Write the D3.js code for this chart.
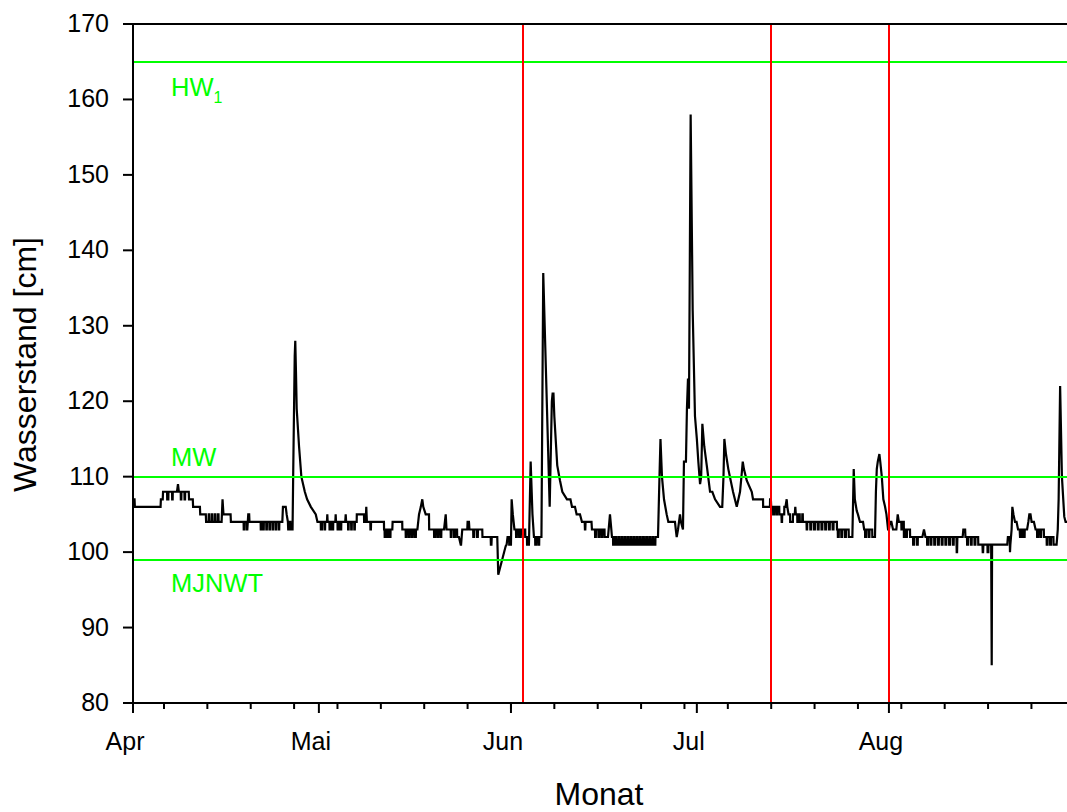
<!DOCTYPE html>
<html>
<head>
<meta charset="utf-8">
<script src="https://cdn.jsdelivr.net/npm/d3@7"></script>
<style>
  body { margin: 0; background: #fff; }
  svg { display: block; }
</style>
</head>
<body>
<div id="chart"></div>
<script>
// Wasserstand, April - August (day of month with fraction, cm)
var year = 2014;

var april = [
  [1.0,107],[1.25,107],[1.3,106],[5.45,106],[5.5,107],[5.8,107],[5.85,108],
  [6.5,108],[6.52,107],[6.7,107],[6.72,108],[7.3,108],[7.32,107],[7.4,107],[7.42,108],
  [8.1,108],[8.26,109],[8.4,108],[8.7,108],[8.72,107],[8.8,107],[8.82,108],[9.3,108],
  [9.32,107],[9.4,107],[9.42,108],[10.0,108],[10.04,107],[10.65,107],[10.7,106],
  [11.8,106],[11.85,105],[12.75,105],[12.8,104],
  [13.2,104],[13.22,105],[13.3,105],[13.32,104],[13.7,104],[13.72,105],[13.8,105],[13.82,104],
  [14.2,104],[14.22,105],[14.3,105],[14.32,104],[14.7,104],[14.72,105],[14.8,105],[14.82,104],
  [15.3,104],[15.45,107],[15.6,105],[16.75,105],[16.8,104],
  [18.85,104],[18.87,103],[18.97,103],[18.99,104],[19.35,104],[19.37,103],[19.45,103],
  [19.6,105],[19.75,105],[19.8,104],[21.6,104],
  [21.62,103],[21.7,103],[21.72,104],[22.0,104],[22.02,103],[22.1,103],[22.12,104],
  [22.5,104],[22.52,103],[22.6,103],[22.62,104],[23.0,104],[23.02,103],[23.1,103],[23.12,104],
  [23.5,104],[23.52,103],[23.6,103],[23.62,104],[24.0,104],[24.02,103],[24.1,103],[24.12,104],
  [24.5,104],[24.52,103],[24.6,103],[24.62,104],[25.1,104],[25.2,106],[25.65,106],[25.8,105],
  [26.0,104],[26.05,103],[26.3,103],[26.32,104],[26.4,104],[26.42,103],[26.75,103],
  [26.85,110],[27.1,126],[27.19,128],[27.3,124],[27.42,119],[27.8,114],[28.17,110],
  [28.73,108],[29.1,107],[29.7,106],[30.5,105],[30.77,104]
];

var may = [
  [1.0,104],[1.3,104],[1.32,103],[1.5,103],[1.52,104],[1.9,104],[1.92,103],[2.0,103],[2.02,104],
  [2.3,104],[2.36,105],[2.42,104],[2.7,104],[2.72,103],[2.9,103],[2.92,104],[3.2,104],[3.22,103],
  [3.3,103],[3.32,104],[3.65,104],[3.71,105],[3.77,104],[4.0,104],[4.02,103],[4.2,103],[4.22,104],
  [4.5,104],[4.52,103],[4.6,103],[4.62,104],[5.25,104],[5.33,105],[5.4,104],[5.7,104],[5.72,103],
  [5.8,103],[5.82,104],[6.2,104],[6.22,103],[6.3,103],[6.32,104],[6.7,104],[6.72,103],[6.8,103],
  [6.82,104],[7.1,104],[7.12,105],[8.28,105],[8.3,104],[8.55,104],[8.65,106],[8.75,104],
  [9.3,104],[9.32,103],[9.4,103],[9.42,104],[11.5,104],[11.52,103],[11.6,103],[11.62,102],
  [11.75,102],[11.77,103],[12.0,103],[12.02,102],[12.15,102],[12.17,103],[12.4,103],[12.42,102],
  [12.55,102],[12.57,103],[12.85,103],[12.9,104],[14.45,104],[14.47,103],[15.0,103],[15.02,102],
  [15.15,102],[15.17,103],[15.5,103],[15.52,102],[15.65,102],[15.67,103],[16.0,103],[16.02,102],
  [16.15,102],[16.17,103],[16.5,103],[16.52,102],[16.65,102],[16.67,103],[16.9,103],[17.16,105],
  [17.45,106],[17.69,107],[17.85,106],[18.24,105],[18.77,105],[18.8,103],[19.58,103],[19.6,102],
  [19.75,102],[19.77,103],[20.1,103],[20.12,102],[20.25,102],[20.27,103],[20.6,103],[20.62,102],
  [20.75,102],[20.77,103],[21.2,103],[21.47,105],[21.6,103],[22.27,103],[22.29,102],[22.4,102],
  [22.42,103],[22.8,103],[22.82,102],[22.95,102],[22.97,103],[23.3,103],[23.32,102],[23.6,102],
  [23.89,101],[23.95,101],[24.14,103],[24.95,103],[25.0,104],[25.22,104],[25.3,103],[25.9,103],
  [25.92,102],[26.05,102],[26.07,103],[26.5,103],[26.52,102],[26.65,102],[26.67,103],[27.37,103],
  [27.4,102],[28.73,102],[28.76,101],[28.85,101],[28.9,102],[29.79,102],[29.95,97],[31.15,100.8],
  [31.3,101],[31.45,102],[31.7,102],[31.72,101]
];

var june = [
  [1.0,101],[1.11,107],[1.3,105],[1.56,103],[1.81,103],[1.83,102],[1.95,102],[1.97,103],
  [2.3,103],[2.32,102],[2.45,102],[2.47,103],[2.8,103],[2.82,102],[2.95,102],[2.97,103],
  [3.3,103],[3.32,102],[3.58,102],[3.6,101],[3.9,101],[4.18,112],[4.47,105],[4.71,102],
  [4.9,102],[4.92,101],[5.05,101],[5.07,102],[5.4,102],[5.42,101],[5.55,101],[5.57,102],
  [5.92,102],[6.21,137],[7.25,106],[7.6,120],[7.72,121],[7.86,121],[8.0,118],[8.47,111.5],[8.91,109.5],
  [9.29,108],[10.04,107],[10.6,107],[10.85,106],[11.33,106],[11.6,105],[12.14,105],[12.46,104],
  [12.9,104],[12.94,103],[13.0,103],[13.04,104],[14.0,104],[14.07,103],[14.56,103],[14.58,102],
  [14.7,102],[14.72,103],[15.1,103],[15.12,102],[15.25,102],[15.27,103],[15.6,103],[15.62,102],
  [15.75,102],[15.77,103],[16.1,103],[16.12,102],[16.66,102],[16.98,105],[17.2,103],[17.3,102],
  [17.47,102],[17.49,101],
  [17.8,101],[17.82,102],[17.95,102],[17.97,101],[18.3,101],[18.32,102],[18.45,102],[18.47,101],
  [18.8,101],[18.82,102],[18.95,102],[18.97,101],[19.3,101],[19.32,102],[19.45,102],[19.47,101],
  [19.8,101],[19.82,102],[19.95,102],[19.97,101],[20.3,101],[20.32,102],[20.45,102],[20.47,101],
  [20.8,101],[20.82,102],[20.95,102],[20.97,101],[21.3,101],[21.32,102],[21.45,102],[21.47,101],
  [21.8,101],[21.82,102],[21.95,102],[21.97,101],[22.3,101],[22.32,102],[22.45,102],[22.47,101],
  [22.8,101],[22.82,102],[22.95,102],[22.97,101],[23.3,101],[23.32,102],[23.45,102],[23.47,101],
  [23.8,101],[23.82,102],[23.95,102],[23.97,101],[24.3,101],[24.32,102],[24.73,102],
  [24.97,110],[25.13,115],[25.37,110],[25.7,107],[26.13,105],[26.4,104],[27.47,104],[27.6,103],
  [27.75,102],[27.96,103],[28.28,105],[28.44,104],[28.76,103],[28.92,112],[29.24,112],[29.4,119],
  [29.57,123],[29.73,119],[30.0,158],[30.33,132],[30.7,118]
];

var july = [
  [1.0,115],[1.24,112],[1.52,109],[1.7,110],[1.89,117],[2.2,114],[2.6,111.5],[3.13,108],
  [3.5,108],[3.94,107],[4.74,106],[5.1,106],[5.3,110],[5.44,115],[5.7,113],[6.08,111],
  [6.84,108],[7.44,106],[7.97,108],[8.2,110],[8.41,112],[8.6,111],[9.05,109.5],[9.86,108],
  [10.07,107],[11.68,107],[11.7,106],[12.8,106],[12.82,107],[12.95,107],[13.0,106],
  [13.3,106],[13.32,105],[13.45,105],[13.47,106],[13.8,106],[13.82,105],[13.95,105],[13.97,106],
  [14.3,106],[14.32,105],[14.65,105],[14.69,104],[14.75,104],[14.78,105],[15.1,105],[15.12,106],
  [15.3,106],[15.5,107],[15.6,106],[15.8,105],[16.04,105],[16.06,104],[16.5,104],[16.52,105],
  [16.8,105],[16.89,106],[16.98,105],[17.2,105],[17.22,104],[17.5,104],[17.52,105],[17.6,105],
  [17.62,104],[18.0,104],[18.02,105],[18.1,105],[18.12,104],[18.7,104],[18.73,103],[18.8,103],
  [18.82,104],
  [19.3,104],[19.32,103],[19.45,103],[19.47,104],[19.9,104],[19.92,103],[20.05,103],[20.07,104],
  [20.5,104],[20.52,103],[20.65,103],[20.67,104],[21.1,104],[21.12,103],[21.25,103],[21.27,104],
  [21.7,104],[21.72,103],[21.85,103],[21.87,104],[22.3,104],[22.32,103],[22.45,103],[22.47,104],
  [22.9,104],[22.92,103],[23.05,103],[23.07,104],[23.6,104],[23.62,103],[23.74,103],[23.76,102],
  [23.9,102],[23.92,103],[24.3,103],[24.32,102],[24.45,102],[24.47,103],[24.9,103],[24.92,102],
  [25.05,102],[25.07,103],[25.5,103],[25.52,102],[26.1,102],[26.32,111],[26.5,107],[26.8,105.5],
  [27.0,105],[27.33,104],[27.82,104],[28.0,103],[28.14,103],[28.16,102],[28.3,102],[28.32,103],
  [28.7,103],[28.72,102],[28.85,102],[28.87,103],[29.3,103],[29.32,102],[29.75,102],[29.9,108],
  [30.04,111],[30.2,112],[30.46,113],[30.6,112],[30.85,110],[31.1,107],[31.38,106],[31.6,105],
  [31.86,103]
];

var august = [
  [1.0,103],[1.18,104],[1.4,104],[1.66,103],[2.2,103],[2.42,105],[2.6,104],[2.8,104],[3.0,104],
  [3.02,103],[3.2,103],[3.22,104],[3.4,104],[3.42,102],[3.5,102],[3.52,103],[3.8,103],[3.82,102],
  [3.9,102],[3.92,103],[4.4,103],[4.42,102],[4.89,102],[4.91,101],[5.05,101],[5.07,102],[5.5,102],
  [5.52,101],[5.65,101],[5.67,102],[6.4,102],[6.66,103],[6.9,102],[7.15,102],[7.17,101],[7.3,101],
  [7.32,102],[7.7,102],[7.72,101],[7.85,101],[7.87,102],[8.3,102],[8.32,101],[8.45,101],[8.47,102],
  [8.9,102],[8.92,101],[9.05,101],[9.07,102],[9.5,102],[9.52,101],[9.65,101],[9.67,102],[10.1,102],
  [10.12,101],[10.25,101],[10.27,102],[10.7,102],[10.72,101],[10.85,101],[10.87,102],[11.3,102],
  [11.32,101],[11.45,101],[11.47,102],[11.9,102],[11.94,100],[12.0,100],[12.05,102],[12.9,102],
  [13.01,103],[13.3,103],[13.35,102],[13.6,102],[13.62,101],[13.75,101],[13.77,102],[14.2,102],
  [14.22,101],[14.35,101],[14.37,102],[14.8,102],[14.82,101],[14.95,101],[14.97,102],[15.4,102],
  [15.42,101],[16.1,101],[16.14,100],[16.2,100],[16.25,101],[16.9,101],[16.92,100],[17.05,100],
  [17.07,101],[17.5,101],[17.59,85],[17.65,101],[20.1,101],[20.2,102],[20.5,102],[20.54,100],
  [20.6,101],[20.8,103],[20.92,106],[21.1,105],[21.35,104],[21.6,104],[21.84,103],[22.1,103],
  [22.16,102],[22.4,102],[22.42,103],[22.6,103],[22.62,102],[22.9,102],[22.92,103],[23.3,103],
  [23.5,104],[23.66,105],[23.85,105],[24.03,104],[24.4,104],[24.67,103],[24.9,103],[24.92,102],
  [25.05,102],[25.07,103],[25.4,103],[25.42,102],[25.55,102],[25.57,103],[26.0,103],[26.02,102],
  [26.45,102],[26.47,101],[26.6,101],[26.62,102],[27.0,102],[27.02,101],[27.15,101],[27.17,102],
  [27.55,102],[27.57,101],[28.06,101],[28.25,103],[28.39,107],[28.63,122],[28.92,110],
  [29.3,104.7],[29.51,104],[30.0,104]
];

var monthLabels = ["Apr", "Mai", "Jun", "Jul", "Aug"];
var yTicks = [80, 90, 100, 110, 120, 130, 140, 150, 160, 170];

// reference levels (cm)
var refNames = ["HW", "MW", "MJNWT"];
var refLevels = [165, 110, 99];
// event markers (day of month, month index)
var markerDays = [[3, 5], [13, 6], [1, 7]];

var svgW = 1067, svgH = 812;
var plotLeft = 133, plotRight = 1081, plotTop = 24, plotBottom = 703;

var months = [april, may, june, july, august];
var data = [];
months.forEach(function(arr, i) {
  var start = Date.UTC(year, 3 + i, 1);
  arr.forEach(function(p) {
    data.push({ date: new Date(start + (p[0] - 1) * 864e5), value: p[1] });
  });
});

var svg = d3.select("#chart").append("svg")
    .attr("width", svgW)
    .attr("height", svgH)
    .style("background", "#fff");

var x = d3.scaleUtc()
    .domain([new Date(Date.UTC(year, 3, 1)), new Date(Date.UTC(year, 8, 1))])
    .range([plotLeft, plotRight]);

var y = d3.scaleLinear()
    .domain([80, 170])
    .range([plotBottom, plotTop]);

var font = "'Liberation Sans', Arial, Helvetica, sans-serif";

// data line
var line = d3.line()
    .x(function(d) { return x(d.date); })
    .y(function(d) { return y(d.value); });

svg.append("path")
    .datum(data)
    .attr("fill", "none")
    .attr("stroke", "#000")
    .attr("stroke-width", 2.2)
    .attr("stroke-linejoin", "miter")
    .attr("d", line);

// green reference lines
svg.selectAll(".ref")
  .data(refLevels)
  .enter().append("line")
    .attr("class", "ref")
    .attr("x1", plotLeft).attr("x2", plotRight)
    .attr("y1", function(d) { return Math.round(y(d)); })
    .attr("y2", function(d) { return Math.round(y(d)); })
    .attr("stroke", "#00ff00")
    .attr("stroke-width", 2);

// red event lines
svg.selectAll(".mark")
  .data(markerDays)
  .enter().append("line")
    .attr("class", "mark")
    .attr("x1", function(d) { return Math.round(x(new Date(Date.UTC(year, d[1], d[0])))); })
    .attr("x2", function(d) { return Math.round(x(new Date(Date.UTC(year, d[1], d[0])))); })
    .attr("y1", plotTop).attr("y2", plotBottom)
    .attr("stroke", "#ff0000")
    .attr("stroke-width", 2);

// reference labels
var hw = svg.append("text")
    .attr("x", 171).attr("y", 96)
    .attr("fill", "#00ff00")
    .style("font-family", font).style("font-size", "25.5px")
    .text(refNames[0]);
hw.append("tspan")
    .attr("dy", 7)
    .style("font-size", "16px")
    .text("1");

svg.append("text")
    .attr("x", 171).attr("y", 466)
    .attr("fill", "#00ff00")
    .style("font-family", font).style("font-size", "25.5px")
    .text(refNames[1]);

svg.append("text")
    .attr("x", 171).attr("y", 592)
    .attr("fill", "#00ff00")
    .style("font-family", font).style("font-size", "25.5px")
    .text(refNames[2]);

// axes
var yAxis = svg.append("g")
    .attr("transform", "translate(" + plotLeft + ",0)")
    .call(d3.axisLeft(y).tickValues(yTicks).tickSize(10).tickSizeOuter(0)
      .tickPadding(14).offset(0));

var monthStarts = d3.utcMonth.range(x.domain()[0], x.domain()[1]);
var xAxis = svg.append("g")
    .attr("transform", "translate(0," + plotBottom + ")")
    .call(d3.axisBottom(x).tickValues(monthStarts).tickSize(10).tickSizeOuter(0).offset(0)
      .tickFormat(function(d, i) { return monthLabels[i]; }));

var sundays = d3.utcSunday.range(x.domain()[0], x.domain()[1]);
var minor = svg.append("g")
    .attr("transform", "translate(0," + plotBottom + ")")
    .call(d3.axisBottom(x).tickValues(sundays).tickSize(6).offset(0).tickFormat(""));
minor.select(".domain").remove();

[yAxis, xAxis, minor].forEach(function(g) {
  g.selectAll("path, line").attr("stroke", "#000").attr("stroke-width", 2);
  g.selectAll("text")
    .attr("fill", "#000")
    .style("font-family", font)
    .style("font-size", "25px");
});

xAxis.selectAll("text").attr("y", 47).attr("dy", 0).attr("dx", -8);

// top frame
svg.append("line")
    .attr("x1", plotLeft).attr("x2", plotRight)
    .attr("y1", plotTop).attr("y2", plotTop)
    .attr("stroke", "#000").attr("stroke-width", 2);

// axis titles
svg.append("text")
    .attr("transform", "translate(36," + ((plotTop + plotBottom) / 2 + 1) + ") rotate(-90)")
    .style("text-anchor", "middle")
    .style("font-family", font)
    .style("font-size", "32px")
    .text("Wasserstand [cm]");

svg.append("text")
    .attr("x", 599).attr("y", 805)
    .style("text-anchor", "middle")
    .style("font-family", font)
    .style("font-size", "32px")
    .text("Monat");
</script>
</body>
</html>
